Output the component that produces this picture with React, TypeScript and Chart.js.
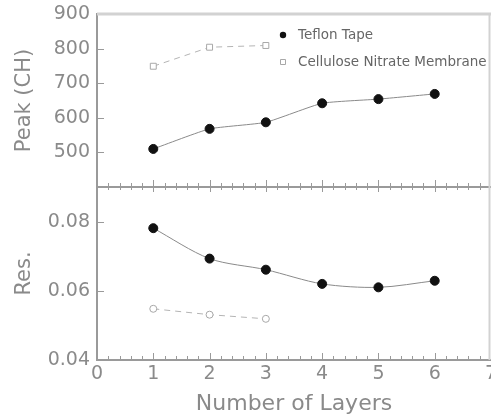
import React, { useEffect, useRef } from "react";
import { Chart, registerables } from "chart.js";
Chart.register(...registerables);

const layers = [1, 2, 3, 4, 5, 6];
const celluloseLayers = [1, 2, 3];
const teflonPeak = [510, 568, 587, 642, 654, 669];
const cellulosePeak = [749, 804, 809];
const teflonRes = [0.0781, 0.0693, 0.0661, 0.062, 0.061, 0.0629];
const celluloseRes = [0.0548, 0.0531, 0.0519];
const xTickValues = [0, 1, 2, 3, 4, 5, 6, 7];
const peakTicks = [500, 600, 700, 800, 900];
const resTicks = [0.04, 0.06, 0.08];
const seriesNames = ["Teflon Tape", "Cellulose Nitrate Membrane"];
const xTitle = "Number of Layers";
const peakTitle = "Peak (CH)";
const resTitle = "Res.";

const TEXT = "#8a8a8a";
const AXIS = "#9a9a9a";
const FRAME = "#d2d2d2";
const FONT = "'DejaVu Sans', sans-serif";

const pts = (xs: number[], ys: number[]) => xs.map((x, i) => ({ x, y: ys[i] }));

function decorPlugin(isTop: boolean) {
  return {
    id: "decor",
    afterDraw(chart: any) {
      const { ctx, chartArea: a, scales } = chart;
      const xs = scales.x;
      const ys = scales.y;
      ctx.save();
      ctx.strokeStyle = AXIS;
      ctx.lineWidth = 1;
      const minorStep = 0.2;
      const n = Math.round((xs.max - xs.min) / minorStep);
      ctx.beginPath();
      for (let i = 0; i <= n; i++) {
        const v = xs.min + i * minorStep;
        const major = Math.abs(v - Math.round(v)) < 1e-6;
        const len = major ? 7 : 4;
        const px = Math.round(xs.getPixelForValue(v)) + 0.5;
        ctx.moveTo(px, a.bottom);
        ctx.lineTo(px, a.bottom - len);
        if (!isTop) {
          ctx.moveTo(px, a.top);
          ctx.lineTo(px, a.top + (major ? 5 : 3));
        }
      }
      ys.ticks.forEach((t: any) => {
        const py = Math.round(ys.getPixelForValue(t.value)) + 0.5;
        ctx.moveTo(a.left, py);
        ctx.lineTo(a.left + 7, py);
      });
      ctx.stroke();
      // frame
      ctx.strokeStyle = FRAME;
      ctx.lineWidth = 2;
      ctx.beginPath();
      ctx.moveTo(a.right - 1.5, a.top);
      ctx.lineTo(a.right - 1.5, a.bottom);
      ctx.stroke();
      if (isTop) {
        ctx.lineWidth = 3;
        ctx.beginPath();
        ctx.moveTo(a.left, a.top);
        ctx.lineTo(a.right, a.top);
        ctx.stroke();
        // legend
        const ds = chart.data.datasets;
        ds.forEach((d: any, i: number) => {
          const mx = a.left + 186;
          const my = a.top + 21 + i * 27;
          ctx.beginPath();
          if (d.pointStyle === "rect") {
            ctx.lineWidth = 1;
            ctx.strokeStyle = d.pointBorderColor;
            ctx.fillStyle = "#fff";
            ctx.rect(mx - 2.5, my - 2.5, 5, 5);
            ctx.fill();
            ctx.stroke();
          } else {
            ctx.fillStyle = d.pointBackgroundColor;
            ctx.arc(mx, my, 3.2, 0, Math.PI * 2);
            ctx.fill();
          }
          ctx.fillStyle = "#666";
          ctx.font = "13.5px " + FONT;
          ctx.textBaseline = "middle";
          ctx.textAlign = "left";
          ctx.fillText(d.label, mx + 15, my);
        });
      }
      ctx.restore();
    },
  };
}

export default function App() {
  const topRef = useRef<HTMLCanvasElement>(null);
  const botRef = useRef<HTMLCanvasElement>(null);

  useEffect(() => {
    Chart.defaults.font.family = FONT;
    Chart.defaults.color = TEXT;

    const teflonStyle = {
      borderColor: "#8a8a8a",
      borderWidth: 1,
      pointStyle: "circle",
      pointRadius: 4.5,
      pointBackgroundColor: "#111",
      pointBorderColor: "#111",
      pointBorderWidth: 1,
      tension: 0.3,
      showLine: true,
    };
    const cellStyle = {
      borderColor: "#b4b4b4",
      borderWidth: 1,
      borderDash: [6, 5],
      pointRadius: 4,
      pointBackgroundColor: "#fff",
      pointBorderColor: "#a8a8a8",
      pointBorderWidth: 1,
      tension: 0,
      showLine: true,
    };

    const yCommon = (min: number, max: number, ticks: number[], title: string, fmt: (v: number) => string) => ({
      type: "linear",
      min,
      max,
      afterBuildTicks: (s: any) => {
        s.ticks = ticks.map((v) => ({ value: v }));
      },
      ticks: { font: { size: 19 }, padding: 7, color: TEXT, callback: (v: any) => fmt(Number(v)) },
      grid: { display: false, drawTicks: false },
      border: { color: AXIS, width: 2 },
      title: { display: true, text: title, font: { size: 21 }, padding: { top: 12, bottom: 0 }, color: TEXT },
      afterFit: (s: any) => {
        s.width = 97;
        s.paddingTop = 0;
        s.paddingBottom = 0;
      },
    });

    const top = new Chart(topRef.current as HTMLCanvasElement, {
      type: "scatter",
      data: {
        datasets: [
          { label: seriesNames[0], data: pts(layers, teflonPeak), ...teflonStyle, tension: 0.15 } as any,
          { label: seriesNames[1], data: pts(celluloseLayers, cellulosePeak), ...cellStyle, pointStyle: "rect", pointRadius: 4.2 } as any,
        ],
      },
      options: {
        responsive: false,
        animation: false,
        layout: { autoPadding: false, padding: { top: 14, left: 0, right: 0, bottom: 0 } },
        plugins: { legend: { display: false }, tooltip: { enabled: false } },
        scales: {
          x: {
            type: "linear",
            min: 0,
            max: 7,
            ticks: { display: false },
            grid: { display: false, drawTicks: false },
            border: { color: AXIS, width: 2 },
            afterFit: (s: any) => {
              s.height = 13;
              s.paddingLeft = 0;
              s.paddingRight = 0;
            },
          },
          y: yCommon(400, 900, peakTicks, peakTitle, (v) => String(v)),
        },
      } as any,
      plugins: [decorPlugin(true)],
    });

    const bot = new Chart(botRef.current as HTMLCanvasElement, {
      type: "scatter",
      data: {
        datasets: [
          { label: seriesNames[0], data: pts(layers, teflonRes), ...teflonStyle } as any,
          { label: seriesNames[1], data: pts(celluloseLayers, celluloseRes), ...cellStyle, pointStyle: "circle", pointRadius: 3.5 } as any,
        ],
      },
      options: {
        responsive: false,
        animation: false,
        layout: { autoPadding: false, padding: 0 },
        plugins: { legend: { display: false }, tooltip: { enabled: false } },
        scales: {
          x: {
            type: "linear",
            min: 0,
            max: 7,
            afterBuildTicks: (s: any) => {
              s.ticks = xTickValues.map((v) => ({ value: v }));
            },
            ticks: { font: { size: 19 }, padding: 3, color: TEXT, maxRotation: 0, autoSkip: false, callback: (v: any) => String(v) },
            grid: { display: false, drawTicks: false },
            border: { color: AXIS, width: 2 },
            title: { display: true, text: xTitle, font: { size: 22 }, padding: { top: 0, bottom: 2 }, color: TEXT },
            afterFit: (s: any) => {
              s.height = 59;
              s.paddingLeft = 0;
              s.paddingRight = 0;
            },
          },
          y: yCommon(0.04, 0.09, resTicks, resTitle, (v) => v.toFixed(2)),
        },
      } as any,
      plugins: [decorPlugin(false)],
    });

    return () => {
      top.destroy();
      bot.destroy();
    };
  }, []);

  return (
    <div style={{ position: "absolute", left: 0, top: 0, width: 491, height: 419, overflow: "hidden", background: "#fff" }}>
      <canvas ref={topRef} width={491} height={200} style={{ position: "absolute", left: 0, top: 0, width: 491, height: 200 }} />
      <canvas ref={botRef} width={491} height={232} style={{ position: "absolute", left: 0, top: 187, width: 491, height: 232 }} />
    </div>
  );
}
